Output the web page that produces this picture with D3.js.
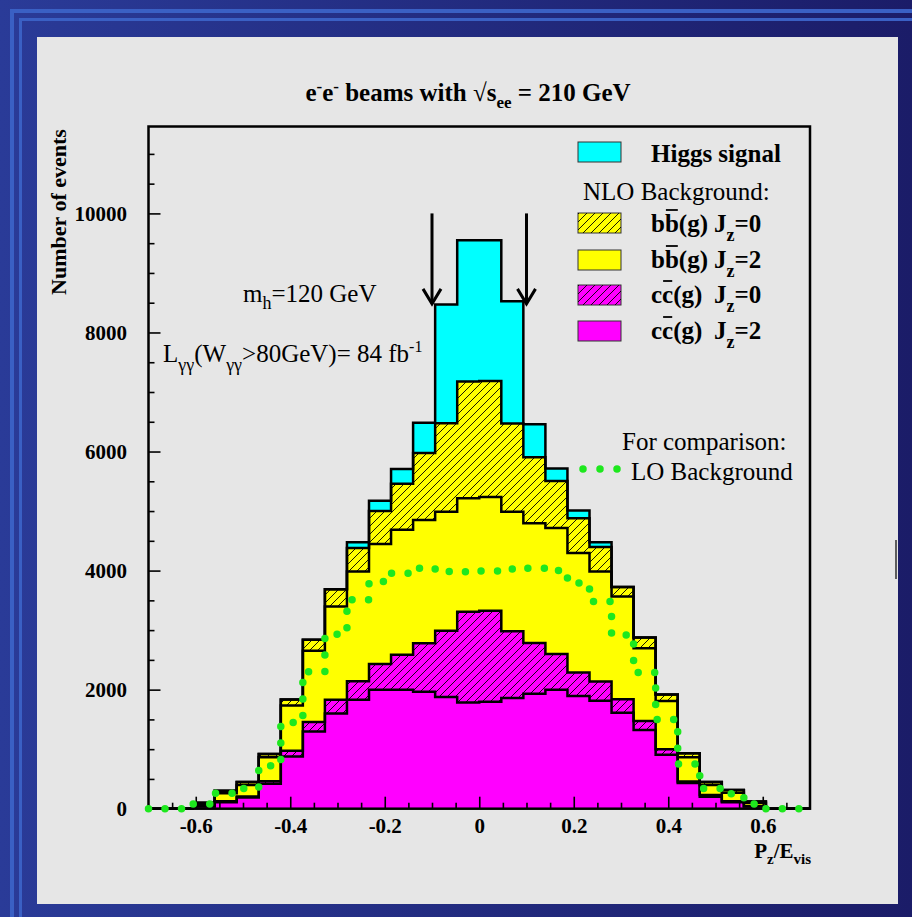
<!DOCTYPE html>
<html>
<head>
<meta charset="utf-8">
<script src="https://cdn.jsdelivr.net/npm/d3@7"></script>
<style>
  body { margin: 0; background: #1e2270; }
  svg { display: block; }
</style>
</head>
<body>
<svg id="chart" width="912" height="917"></svg>
<script>
'use strict';

//histogram binning in P_z/E_vis
var binLow = -0.7, binHigh = 0.7, nBins = 30;

//events per bin, stacked from bottom to top
var ccJz2 = [0, 0, 35, 110, 190, 420, 875, 1295, 1600, 1830, 2000, 2000, 1965, 1875, 1785,
  1795, 1860, 1930, 2000, 1895, 1815, 1610, 1320, 905, 430, 200, 110, 35, 0, 0];
var ccJz0 = [0, 0, 5, 15, 15, 40, 100, 160, 230, 310, 430, 585, 815, 1115, 1525,
  1530, 1120, 855, 600, 395, 320, 230, 155, 95, 25, 30, 15, 5, 0, 0];
var bbJz2 = [0, 0, 40, 135, 195, 405, 760, 1200, 1565, 1845, 2015, 2100, 2070, 2000, 1905,
  1910, 2010, 2010, 2115, 2005, 1850, 1725, 1220, 810, 410, 170, 145, 55, 0, 0];
var bbJz0 = [0, 0, 20, 40, 50, 55, 100, 185, 290, 395, 555, 775, 1125, 1485, 1960,
  1950, 1480, 1110, 790, 585, 410, 160, 180, 110, 65, 50, 45, 25, 0, 0];
var higgs = [0, 0, 0, 0, 0, 0, 0, 0, 0, 95, 175, 245, 510, 1995, 2375,
  2365, 2055, 555, 210, 130, 80, 0, 0, 0, 0, 0, 0, 0, 0, 0];

//LO background for comparison (dotted)
var loBackground = [0, 0, 80, 260, 340, 720, 1450, 2300, 2930, 3510, 3815, 3955, 4040, 3985, 3980,
  3995, 4025, 4040, 4000, 3790, 3480, 2920, 2290, 1500, 750, 340, 250, 80, 0, 0];

var xMajorTicks = [-0.6, -0.4, -0.2, 0, 0.2, 0.4, 0.6];
var yMajorTicks = [0, 2000, 4000, 6000, 8000, 10000];

//mass window arrows
var cutPositions = [-0.1, 0.1];
var arrowFrom = 10000, arrowTo = 8480;

var serif = '"Liberation Serif", "Times New Roman", serif';

var svg = d3.select('#chart');
var defs = svg.append('defs');

//slide background
var grad = defs.append('linearGradient').attr('id', 'bg')
  .attr('x1', 0).attr('x2', 1).attr('y1', 0).attr('y2', 0);
grad.append('stop').attr('offset', '0%').attr('stop-color', '#2a3b98');
grad.append('stop').attr('offset', '100%').attr('stop-color', '#1b1c68');

defs.append('pattern').attr('id', 'hatch')
  .attr('patternUnits', 'userSpaceOnUse').attr('width', 8).attr('height', 8)
  .append('path')
  .attr('d', 'M-2,2 l4,-4 M0,8 l8,-8 M6,10 l4,-4')
  .attr('stroke', '#000').attr('stroke-width', 0.9);

svg.append('rect').attr('width', 912).attr('height', 917).attr('fill', 'url(#bg)');
var stripe = '#3a60c4';
svg.append('rect').attr('x', 10).attr('y', 9).attr('width', 902).attr('height', 4).attr('fill', stripe);
svg.append('rect').attr('x', 10).attr('y', 9).attr('width', 4).attr('height', 908).attr('fill', stripe);
svg.append('rect').attr('x', 19).attr('y', 18).attr('width', 893).attr('height', 3).attr('fill', stripe);
svg.append('rect').attr('x', 19).attr('y', 18).attr('width', 3).attr('height', 899).attr('fill', stripe);
svg.append('rect').attr('x', 37).attr('y', 37).attr('width', 861).attr('height', 867).attr('fill', '#e6e6e6');
svg.append('line').attr('x1', 896).attr('x2', 896).attr('y1', 540).attr('y2', 579)
  .attr('stroke', '#000').attr('stroke-width', 1.2);

//scales
var x = d3.scaleLinear().domain([binLow, binHigh]).range([148.5, 810]);
var y = d3.scaleLinear().domain([0, 11460]).range([808.7, 126.5]);

function edge(i) {
  return binLow + i * (binHigh - binLow) / nBins;
}

//build stacked layers
var layerStyles = [
  { key: 'ccJz2', values: ccJz2, color: '#ff00ff', hatch: false },
  { key: 'ccJz0', values: ccJz0, color: '#ff00ff', hatch: true },
  { key: 'bbJz2', values: bbJz2, color: '#ffff00', hatch: false },
  { key: 'bbJz0', values: bbJz0, color: '#ffff00', hatch: true },
  { key: 'higgs', values: higgs, color: '#00ffff', hatch: false }
];

var rows = d3.range(nBins).map(function (i) {
  var r = { bin: i };
  layerStyles.forEach(function (s) { r[s.key] = s.values[i]; });
  return r;
});
var stacked = d3.stack().keys(layerStyles.map(function (s) { return s.key; }))(rows);

function stepPoints(layer) {
  var pts = layer.map(function (d, i) { return { x: edge(i), y0: d[0], y1: d[1] }; });
  var last = layer[nBins - 1];
  pts.push({ x: binHigh, y0: last[0], y1: last[1] });
  return pts;
}

var band = d3.area()
  .x(function (d) { return x(d.x); })
  .y0(function (d) { return y(d.y0); })
  .y1(function (d) { return y(d.y1); })
  .curve(d3.curveStepAfter);

var topLine = d3.line()
  .x(function (d) { return x(d.x); })
  .y(function (d) { return y(d.y1); })
  .curve(d3.curveStepAfter);

var plot = svg.append('g');

stacked.forEach(function (layer, j) {
  var pts = stepPoints(layer);
  plot.append('path').datum(pts).attr('d', band).attr('fill', layerStyles[j].color);
  if (layerStyles[j].hatch) {
    plot.append('path').datum(pts).attr('d', band).attr('fill', 'url(#hatch)');
  }
});

stacked.forEach(function (layer) {
  plot.append('path').datum(stepPoints(layer)).attr('d', topLine)
    .attr('fill', 'none').attr('stroke', '#000').attr('stroke-width', 2.5)
    .attr('stroke-linejoin', 'miter');
});

//axes (ticks pointing into the frame)
var yAxis = svg.append('g').attr('transform', 'translate(' + x(binLow) + ',0)')
  .call(d3.axisLeft(y).tickValues(yMajorTicks).tickSize(-12).tickPadding(21.5)
    .tickFormat(d3.format('d')));
var yMinor = svg.append('g').attr('transform', 'translate(' + x(binLow) + ',0)')
  .call(d3.axisLeft(y).tickValues(d3.range(500, 11460, 500).filter(function (v) { return v % 2000 !== 0; }))
    .tickSize(-6).tickFormat(''));

var xAxis = svg.append('g').attr('transform', 'translate(0,' + y(0) + ')')
  .call(d3.axisBottom(x).tickValues(xMajorTicks).tickSize(-12).tickPadding(9.4)
    .tickFormat(function (d) { return d === 0 ? '0' : d.toFixed(1); }));
var xMinor = svg.append('g').attr('transform', 'translate(0,' + y(0) + ')')
  .call(d3.axisBottom(x).tickValues(d3.range(-13, 14).map(function (k) { return k * 0.05; })
    .filter(function (v) { return Math.abs(Math.round(v * 100) % 20) !== 0; }))
    .tickSize(-6).tickFormat(''));

[yAxis, yMinor, xAxis, xMinor].forEach(function (a) {
  a.select('.domain').remove();
  a.selectAll('.tick line').attr('stroke', '#000').attr('stroke-width', 1.6);
  a.selectAll('text').attr('fill', '#000')
    .style('font-family', serif).style('font-weight', 'bold').style('font-size', '21px');
});

svg.append('rect')
  .attr('x', x(binLow)).attr('y', y(11460))
  .attr('width', x(binHigh) - x(binLow)).attr('height', y(0) - y(11460))
  .attr('fill', 'none').attr('stroke', '#000').attr('stroke-width', 2.5);

//LO background as dotted step line
var loPts = loBackground.map(function (v, i) { return { x: edge(i), y1: v }; });
loPts.push({ x: binHigh, y1: loBackground[nBins - 1] });
svg.append('path').datum(loPts).attr('d', topLine)
  .attr('fill', 'none').attr('stroke', '#1ee81e').attr('stroke-width', 7.5)
  .attr('stroke-linecap', 'round').attr('stroke-dasharray', '0,16.5');

//arrows marking the window
cutPositions.forEach(function (c) {
  var ax = x(c), top = y(arrowFrom), tip = y(arrowTo);
  svg.append('line').attr('x1', ax).attr('x2', ax).attr('y1', top).attr('y2', tip)
    .attr('stroke', '#000').attr('stroke-width', 3);
  svg.append('path')
    .attr('d', 'M' + (ax - 9) + ',' + (tip - 15) + 'L' + ax + ',' + tip + 'L' + (ax + 9) + ',' + (tip - 15))
    .attr('fill', 'none').attr('stroke', '#000').attr('stroke-width', 3);
});

//text helper: parts with sub/superscript shifts
function richText(parent, px, py, parts, opts) {
  var t = parent.append('text').attr('x', px).attr('y', py)
    .style('font-family', serif)
    .style('font-size', (opts.size || 25) + 'px')
    .style('font-weight', opts.bold ? 'bold' : 'normal')
    .attr('text-anchor', opts.anchor || 'start')
    .attr('fill', '#000');
  if (opts.transform) t.attr('transform', opts.transform);
  var shift = 0;
  var overs = [];
  var idx = 0;
  parts.forEach(function (p) {
    var s = t.append('tspan').text(p.t);
    var target = p.shift || 0;
    s.attr('dy', target - shift);
    shift = target;
    if (p.size) s.style('font-size', p.size + 'px');
    if (p.over) overs.push(idx);
    idx += p.t.length;
  });
  overs.forEach(function (i) {
    var a = t.node().getStartPositionOfChar(i);
    var b = t.node().getEndPositionOfChar(i);
    parent.append('line').attr('x1', a.x + 1).attr('x2', b.x - 1)
      .attr('y1', py - 22).attr('y2', py - 22)
      .attr('stroke', '#000').attr('stroke-width', 1.8);
  });
  return t;
}

//title
richText(svg, 468, 101, [
  { t: 'e' }, { t: '-', size: 17, shift: -9 }, { t: 'e' }, { t: '-', size: 17, shift: -9 },
  { t: ' beams with \u221As' }, { t: 'ee', size: 17, shift: 7 }, { t: ' = 210 GeV' }
], { bold: true, size: 25, anchor: 'middle' });

//axis titles
richText(svg, 66, 212, [{ t: 'Number of events' }],
  { bold: true, size: 22, anchor: 'middle', transform: 'rotate(-90,66,212)' });
richText(svg, 811, 858, [
  { t: 'P' }, { t: 'z', size: 15, shift: 6 }, { t: '/E' }, { t: 'vis', size: 15, shift: 6 }
], { bold: true, size: 21, anchor: 'end' });

//annotations
richText(svg, 243, 302, [{ t: 'm' }, { t: 'h', size: 18, shift: 7 }, { t: '=120 GeV' }], {});
richText(svg, 163, 362, [
  { t: 'L' }, { t: '\u03B3\u03B3', size: 18, shift: 9 }, { t: '(W' }, { t: '\u03B3\u03B3', size: 18, shift: 9 },
  { t: '>80GeV)= 84 fb' }, { t: '-1', size: 16, shift: -10 }
], {});

//legend
var legend = svg.append('g');
var legendBoxes = [
  { y: 142, color: '#00ffff', hatch: false },
  { y: 213, color: '#ffff00', hatch: true },
  { y: 250, color: '#ffff00', hatch: false },
  { y: 285, color: '#ff00ff', hatch: true },
  { y: 321, color: '#ff00ff', hatch: false }
];
legendBoxes.forEach(function (b) {
  legend.append('rect').attr('x', 578).attr('y', b.y).attr('width', 43).attr('height', 20)
    .attr('fill', b.color).attr('stroke', '#333').attr('stroke-width', 1);
  if (b.hatch) {
    legend.append('rect').attr('x', 578).attr('y', b.y).attr('width', 43).attr('height', 20)
      .attr('fill', 'url(#hatch)');
  }
});
richText(legend, 651, 162, [{ t: 'Higgs signal' }], { bold: true });
richText(legend, 583, 200, [{ t: 'NLO Background:' }], {});

var legendRows = [
  { q: 'b', jz: '0', base: 232 },
  { q: 'b', jz: '2', base: 268 },
  { q: 'c', jz: '0', base: 303 },
  { q: 'c', jz: '2', base: 339 }
];
legendRows.forEach(function (r) {
  richText(legend, 651, r.base, [{ t: r.q }, { t: r.q, over: true }, { t: '(g)' }], { bold: true });
  richText(legend, 714, r.base, [{ t: 'J' }, { t: 'z', size: 18, shift: 9 }, { t: '=' + r.jz, shift: 0 }], { bold: true });
});

richText(legend, 622, 450, [{ t: 'For comparison:' }], {});
richText(legend, 631, 480, [{ t: 'LO Background' }], {});
legend.append('line').attr('x1', 583).attr('x2', 618).attr('y1', 469).attr('y2', 469)
  .attr('stroke', '#1ee81e').attr('stroke-width', 7.5)
  .attr('stroke-linecap', 'round').attr('stroke-dasharray', '0,17');
</script>
</body>
</html>
